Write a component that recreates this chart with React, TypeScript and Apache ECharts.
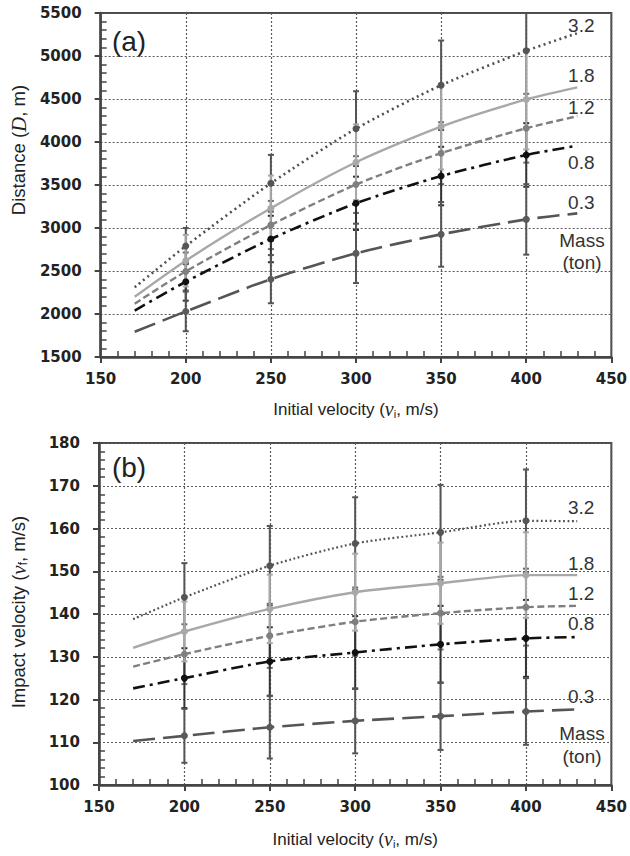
import React, { useEffect, useRef } from 'react';
import * as echarts from 'echarts';

// ---------- data ----------
const velocities = [200, 250, 300, 350, 400];
const fitStartV = 170;
const fitEndV = 430;
const massLabels = ['3.2', '1.8', '1.2', '0.8', '0.3'];

// (a) Distance D (m)
const distance32 = [2790, 3520, 4155, 4660, 5060];
const distance18 = [2620, 3230, 3765, 4180, 4495];
const distance12 = [2495, 3035, 3505, 3870, 4160];
const distance08 = [2375, 2872, 3287, 3604, 3849];
const distance03 = [2030, 2405, 2705, 2926, 3100];
const distanceFitStart = [2310, 2200, 2120, 2040, 1793];
const distanceFitEnd = [5265, 4635, 4300, 3957, 3170];
const distanceErr32 = [210, 330, 435, 520, 560];
const distanceErr18 = [300, 380, 440, 500, 580];
const distanceErr12 = [220, 280, 330, 360, 400];
const distanceErr08 = [220, 270, 310, 340, 370];
const distanceErr03 = [230, 280, 345, 376, 410];

// (b) Impact velocity vf (m/s)
const impact32 = [143.9, 151.3, 156.5, 159.1, 161.8];
const impact18 = [135.9, 141.2, 145.1, 147.2, 149.1];
const impact12 = [130.6, 134.9, 138.2, 140.2, 141.6];
const impact08 = [125.0, 128.9, 131.0, 132.9, 134.3];
const impact03 = [111.5, 113.5, 115.0, 116.1, 117.2];
const impactFitStart = [138.8, 132.1, 127.7, 122.6, 110.3];
const impactFitEnd = [161.7, 149.1, 141.9, 134.6, 117.7];
const impactErr32 = [8.0, 9.3, 10.8, 11.1, 12.0];
const impactErr18 = [7.0, 8.0, 9.0, 9.5, 10.0];
const impactErr12 = [7.0, 7.5, 8.0, 8.5, 9.0];
const impactErr08 = [7.0, 8.0, 8.5, 9.0, 9.0];
const impactErr03 = [6.3, 7.3, 7.6, 7.9, 7.8];

const distanceSeries = [distance32, distance18, distance12, distance08, distance03];
const distanceErrs = [distanceErr32, distanceErr18, distanceErr12, distanceErr08, distanceErr03];
const impactSeries = [impact32, impact18, impact12, impact08, impact03];
const impactErrs = [impactErr32, impactErr18, impactErr12, impactErr08, impactErr03];

// ---------- styles ----------
const LABEL_FONT = 'DejaVu Sans';
const TEXT_FONT = 'Liberation Sans';

const lineStyles = [
  { color: '#505050', type: [2, 3.5], width: 2.6, marker: '#555555', bar: '#555555' },
  { color: '#a8a8a8', type: 'solid', width: 2.4, marker: '#a8a8a8', bar: '#a8a8a8' },
  { color: '#7f7f7f', type: [7, 3.5], width: 2.4, marker: '#7f7f7f', bar: '#6f6f6f' },
  { color: '#111111', type: [12, 5, 3, 5], width: 2.6, marker: '#111111', bar: '#333333' },
  { color: '#555555', type: [22, 8], width: 2.6, marker: '#5a5a5a', bar: '#555555' },
];

// label offsets relative to the fitted line's end (dx, dy)
const labelOffsetsA = [[-4, -8], [-4, -12], [-4, -9], [-4, 17], [-4, -11]];
const labelOffsetsB = [[-4, -14], [-4, -12], [-4, -12], [-4, -14], [-4, -13]];

function buildPanel(
  panel: number,
  values: number[][],
  errs: number[][],
  starts: number[],
  ends: number[],
  offsets: number[][],
  topLine: boolean
) {
  const out: any[] = [];
  const xi = panel * 2;
  const yi = panel * 2;
  const order = [0, 2, 3, 4, 1];
  order.forEach((i) => {
    const st = lineStyles[i];
    out.push({
      type: 'custom',
      xAxisIndex: xi,
      yAxisIndex: yi,
      z: 2,
      silent: true,
      clip: true,
      data: velocities.map((v, k) => [v, values[i][k] - errs[i][k], values[i][k] + errs[i][k]]),
      renderItem: (params: any, api: any) => {
        const x = api.value(0);
        const lo = api.coord([x, api.value(1)]);
        const hi = api.coord([x, api.value(2)]);
        const style = { stroke: st.bar, lineWidth: 2 };
        return {
          type: 'group',
          children: [
            { type: 'line', shape: { x1: lo[0], y1: lo[1], x2: hi[0], y2: hi[1] }, style },
            { type: 'line', shape: { x1: lo[0] - 3, y1: lo[1], x2: lo[0] + 3, y2: lo[1] }, style },
            { type: 'line', shape: { x1: hi[0] - 3, y1: hi[1], x2: hi[0] + 3, y2: hi[1] }, style },
          ],
        };
      },
    });
  });
  values.forEach((vals, i) => {
    const st = lineStyles[i];
    const data: any[] = [{ value: [fitStartV, starts[i]], symbol: 'none' }];
    velocities.forEach((v, k) => data.push({ value: [v, vals[k]] }));
    data.push({ value: [fitEndV, ends[i]], symbol: 'none' });
    out.push({
      type: 'line',
      name: massLabels[i] + (panel ? 'b' : 'a'),
      xAxisIndex: xi,
      yAxisIndex: yi,
      z: 3,
      smooth: 0.25,
      data,
      symbol: 'circle',
      symbolSize: 7,
      showAllSymbol: true,
      itemStyle: { color: st.marker },
      lineStyle: {
        color: st.color,
        type: topLine ? st.type : (i === 0 ? [1.8, 2.6] : st.type),
        width: topLine ? st.width : (i === 0 ? 2.2 : st.width),
      },
      endLabel: {
        show: true,
        formatter: massLabels[i],
        fontFamily: TEXT_FONT,
        fontSize: 19,
        color: '#333333',
        align: 'center',
        verticalAlign: 'middle',
        offset: offsets[i],
      },
      emphasis: { disabled: true },
    });
  });
  return out;
}

const italicSerif = { fontFamily: 'Liberation Serif', fontStyle: 'italic', fontSize: 20, color: '#222' };
const subStyle = { fontFamily: TEXT_FONT, fontSize: 11, color: '#222', verticalAlign: 'bottom', lineHeight: 11, padding: [9, 0, 0, 0] };
const nameBase = { fontFamily: TEXT_FONT, fontSize: 17, color: '#222', lineHeight: 20 };
const nameBaseY = { fontFamily: TEXT_FONT, fontSize: 18.5, color: '#222', lineHeight: 21 };

function mainX(grid: number, nameGap: number) {
  return {
    type: 'value',
    gridIndex: grid,
    min: 150,
    max: 450,
    interval: 50,
    position: 'bottom',
    name: '{n|Initial velocity (}{i|v}{s|i}{n|, m/s)}',
    nameLocation: 'middle',
    nameGap,
    nameTextStyle: { rich: { n: nameBase, i: italicSerif, s: subStyle } },
    axisLine: { show: true, onZero: false, lineStyle: { color: '#444', width: 2.5 } },
    axisTick: { show: true, inside: false, length: 6, lineStyle: { color: '#444', width: 2 } },
    axisLabel: { fontFamily: LABEL_FONT, fontWeight: 'bold', fontSize: 15, color: '#222', margin: 14 },
    splitLine: { show: true, lineStyle: { color: '#5a5a5a', type: [2, 2], width: 1.2 } },
  };
}
function minorX(grid: number) {
  return {
    type: 'value',
    gridIndex: grid,
    min: 150,
    max: 450,
    interval: 50,
    position: 'bottom',
    offset: 0,
    axisLine: { show: false, onZero: false },
    axisTick: { show: false, inside: true },
    minorTick: { show: true, splitNumber: 5, length: 6, lineStyle: { color: '#444', width: 1.5 } },
    axisLabel: { show: false },
    splitLine: { show: false },
  };
}
function mainY(grid: number, min: number, max: number, interval: number, name: string, shift: number) {
  return {
    type: 'value',
    gridIndex: grid,
    min,
    max,
    interval,
    position: 'left',
    name,
    nameLocation: 'middle',
    nameGap: 70,
    nameTextStyle: { padding: [0, 0, 0, shift], rich: { n: nameBaseY, i: { ...italicSerif, fontSize: 21 }, s: { ...subStyle, fontSize: 12 } } },
    axisLine: { show: true, onZero: false, lineStyle: { color: '#444', width: 2.5 } },
    axisTick: { show: true, inside: false, length: 6, lineStyle: { color: '#444', width: 2 } },
    axisLabel: { fontFamily: LABEL_FONT, fontWeight: 'bold', fontSize: 15, color: '#222', margin: 19, formatter: (v: number) => String(v) },
    splitLine: { show: true, lineStyle: { color: '#5a5a5a', type: [2, 2], width: 1.2 } },
  };
}
function minorY(grid: number, min: number, max: number, interval: number) {
  return {
    type: 'value',
    gridIndex: grid,
    min,
    max,
    interval,
    position: 'left',
    offset: 0,
    axisLine: { show: false, onZero: false },
    axisTick: { show: false, inside: true },
    minorTick: { show: true, splitNumber: 5, length: 6, lineStyle: { color: '#444', width: 1.5 } },
    axisLabel: { show: false },
    splitLine: { show: false },
  };
}

export default function App() {
  const ref = useRef<HTMLDivElement>(null);
  useEffect(() => {
    if (!ref.current) return;
    const chart = echarts.init(ref.current, undefined, { renderer: 'svg' });
    const option: any = {
      animation: false,
      backgroundColor: '#ffffff',
      grid: [
        { left: 97, top: 13, width: 516, height: 344, show: true, borderColor: '#4a4a4a', borderWidth: 2, containLabel: false },
        { left: 97, top: 443, width: 516, height: 342, show: true, borderColor: '#4a4a4a', borderWidth: 2, containLabel: false },
      ],
      xAxis: [mainX(0, 42), minorX(0), mainX(1, 44), minorX(1)],
      yAxis: [
        mainY(0, 1500, 5500, 500, '{n|Distance (}{i|D}{n|, m)}', 70),
        minorY(0, 1500, 5500, 500),
        mainY(1, 100, 180, 10, '{n|Impact velocity (}{i|v}{s|f}{n|, m/s)}', 4),
        minorY(1, 100, 180, 10),
      ],
      series: [
        ...buildPanel(0, distanceSeries, distanceErrs, distanceFitStart, distanceFitEnd, labelOffsetsA, true),
        ...buildPanel(1, impactSeries, impactErrs, impactFitStart, impactFitEnd, labelOffsetsB, false),
      ],
      graphic: [
        { type: 'text', x: 129, y: 41, style: { text: '(a)', fontFamily: TEXT_FONT, fontSize: 28, fill: '#222', align: 'center', verticalAlign: 'middle' } },
        { type: 'text', x: 129, y: 467, style: { text: '(b)', fontFamily: TEXT_FONT, fontSize: 28, fill: '#222', align: 'center', verticalAlign: 'middle' } },
        { type: 'text', x: 582, y: 240, style: { text: 'Mass', fontFamily: TEXT_FONT, fontSize: 19, fill: '#333', align: 'center', verticalAlign: 'middle' } },
        { type: 'text', x: 582, y: 262, style: { text: '(ton)', fontFamily: TEXT_FONT, fontSize: 19, fill: '#333', align: 'center', verticalAlign: 'middle' } },
        { type: 'text', x: 582, y: 733, style: { text: 'Mass', fontFamily: TEXT_FONT, fontSize: 19, fill: '#333', align: 'center', verticalAlign: 'middle' } },
        { type: 'text', x: 582, y: 756, style: { text: '(ton)', fontFamily: TEXT_FONT, fontSize: 19, fill: '#333', align: 'center', verticalAlign: 'middle' } },
      ],
    };
    chart.setOption(option);
    return () => chart.dispose();
  }, []);
  return <div ref={ref} style={{ position: 'absolute', left: 0, top: 0, width: 630, height: 856 }} />;
}
